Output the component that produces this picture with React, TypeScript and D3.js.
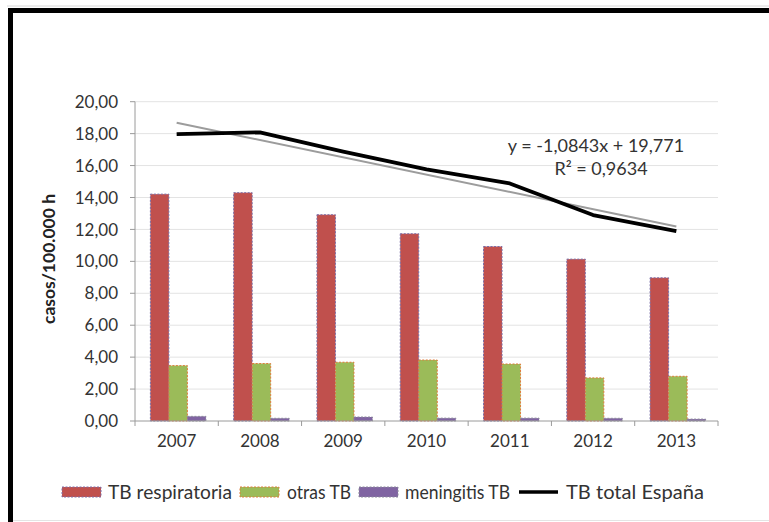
import React from "react";
import * as d3 from "d3";

// Tuberculosis incidence in Spain (cases per 100.000 inhabitants)
const years = ["2007", "2008", "2009", "2010", "2011", "2012", "2013"];
const tbRespiratoria = [14.21, 14.3, 12.92, 11.73, 10.93, 10.14, 8.97];
const otrasTB = [3.47, 3.6, 3.68, 3.82, 3.57, 2.7, 2.8];
const meningitisTB = [0.29, 0.17, 0.25, 0.18, 0.18, 0.17, 0.12];
const tbTotal = [17.97, 18.08, 16.87, 15.76, 14.88, 12.9, 11.89];
const yTicks = [0, 2, 4, 6, 8, 10, 12, 14, 16, 18, 20];

// Linear trend of the total series (x = 1..7)
const trendSlope = -1.0843;
const trendIntercept = 19.771;
const trendLabel = "y = -1,0843x + 19,771";
const r2Label = "R² = 0,9634";

const seriesNames = ["TB respiratoria", "otras TB", "meningitis TB", "TB total España"];
const barSeries = [tbRespiratoria, otrasTB, meningitisTB];
const barFill = ["#C0504D", "#9BBB59", "#8064A2"];
const barStroke = ["#7a6fa8", "#e07a3a", "#8a8a9a"];

const W = 769;
const H = 522;
const plot = { left: 135, right: 718, top: 101.7, bottom: 421 };
const font = "Lato, Calibri, 'Open Sans', sans-serif";

export default function App() {
  const x = d3.scaleBand<string>().domain(years).range([plot.left, plot.right]).paddingInner(0).paddingOuter(0);
  const y = d3.scaleLinear().domain([0, 20]).range([plot.bottom, plot.top]);
  const bw = x.bandwidth();
  const barW = bw / (3 + 1.5);
  const groupOffset = (bw - 3 * barW) / 2 + 1.5;

  const fmt = (v: number) => v.toFixed(2).replace(".", ",");

  const lineGen = d3
    .line<number>()
    .x((_, i) => (x(years[i]) as number) + bw / 2)
    .y((d) => y(d));

  const tx0 = (x(years[0]) as number) + bw / 2;
  const tx1 = (x(years[years.length - 1]) as number) + bw / 2;
  const ty0 = y(trendSlope * 1 + trendIntercept);
  const ty1 = y(trendSlope * years.length + trendIntercept);

  const boundaries = years.map((yr) => x(yr) as number).concat([plot.right]);

  // legend layout: swatch x, text x, text width
  const legendItems = [
    { sw: 62, tx: 108, tw: 124, i: 0 },
    { sw: 240, tx: 287, tw: 64, i: 1 },
    { sw: 359, tx: 405, tw: 105, i: 2 },
    { sw: 519, tx: 566, tw: 138, i: 3 },
  ];
  const legendY = 492;

  return (
    <svg
      width={W}
      height={H}
      style={{ position: "absolute", left: 0, top: 0, background: "#fff" }}
      fontFamily={font}
    >
      <rect x={0} y={0} width={W} height={H} fill="#fff" />
      {/* frame */}
      <line x1={7} y1={6} x2={W} y2={6} stroke="#d8d8d8" strokeWidth={1} />
      <rect x={8} y={8} width={W - 8} height={5} fill="#000" />
      <rect x={8} y={8} width={5} height={H - 8} fill="#000" />
      <line x1={13} y1={520.5} x2={W} y2={520.5} stroke="#e4e4e4" strokeWidth={1} />

      {/* gridlines */}
      {yTicks.slice(1).map((t) => (
        <line key={"g" + t} x1={plot.left} x2={plot.right} y1={y(t)} y2={y(t)} stroke="#e3e3e3" strokeWidth={1} />
      ))}

      {/* y axis */}
      <line x1={plot.left} x2={plot.left} y1={plot.top} y2={plot.bottom} stroke="#9a9a9a" strokeWidth={1} />
      {yTicks.map((t) => (
        <g key={"t" + t}>
          <line x1={plot.left - 5} x2={plot.left} y1={y(t)} y2={y(t)} stroke="#9a9a9a" strokeWidth={1} />
          <text x={118} y={y(t)} dy="0.36em" textAnchor="end" fontSize={17} fill="#333">
            {fmt(t)}
          </text>
        </g>
      ))}
      <text
        transform={`translate(55,259) rotate(-90)`}
        textAnchor="middle"
        fontSize={17.5}
        fontWeight="bold"
        fill="#222"
      >
        casos/100.000 h
      </text>

      {/* bars */}
      {barSeries.map((s, si) =>
        s.map((v, i) => {
          const bx = (x(years[i]) as number) + groupOffset + si * barW;
          return (
            <rect
              key={`b${si}-${i}`}
              x={bx}
              y={y(v)}
              width={barW}
              height={y(0) - y(v)}
              fill={barFill[si]}
              stroke={barStroke[si]}
              strokeWidth={1}
              strokeDasharray="2,1.5"
            />
          );
        })
      )}

      {/* x axis */}
      <line x1={plot.left} x2={plot.right} y1={plot.bottom} y2={plot.bottom} stroke="#9a9a9a" strokeWidth={1} />
      {boundaries.map((b, i) => (
        <line key={"xt" + i} x1={b} x2={b} y1={plot.bottom} y2={plot.bottom + 5} stroke="#9a9a9a" strokeWidth={1} />
      ))}
      {years.map((yr) => (
        <text key={yr} x={(x(yr) as number) + bw / 2} y={441} dy="0.36em" textAnchor="middle" fontSize={17} fill="#333">
          {yr}
        </text>
      ))}

      {/* trend line */}
      <line x1={tx0} y1={ty0} x2={tx1} y2={ty1} stroke="#9c9c9c" strokeWidth={2} />
      {/* total line */}
      <path d={lineGen(tbTotal) as string} fill="none" stroke="#000" strokeWidth={3.8} strokeLinejoin="round" />

      <text x={596} y={146} dy="0.36em" textAnchor="middle" fontSize={18} fill="#333">
        {trendLabel}
      </text>
      <text x={601} y={169} dy="0.36em" textAnchor="middle" fontSize={18} fill="#333">
        {r2Label}
      </text>

      {/* legend */}
      {legendItems.map((it) => (
        <g key={"l" + it.i}>
          {it.i < 3 ? (
            <rect
              x={it.sw}
              y={legendY - 5}
              width={39}
              height={10}
              fill={barFill[it.i]}
              stroke={barStroke[it.i]}
              strokeDasharray="2,1.5"
            />
          ) : (
            <line x1={it.sw} x2={it.sw + 39} y1={legendY} y2={legendY} stroke="#000" strokeWidth={3.5} />
          )}
          <text
            x={it.tx}
            y={legendY}
            dy="0.36em"
            fontSize={18.5}
            fill="#333"
            textLength={it.tw}
            lengthAdjust="spacingAndGlyphs"
          >
            {seriesNames[it.i]}
          </text>
        </g>
      ))}
    </svg>
  );
}
